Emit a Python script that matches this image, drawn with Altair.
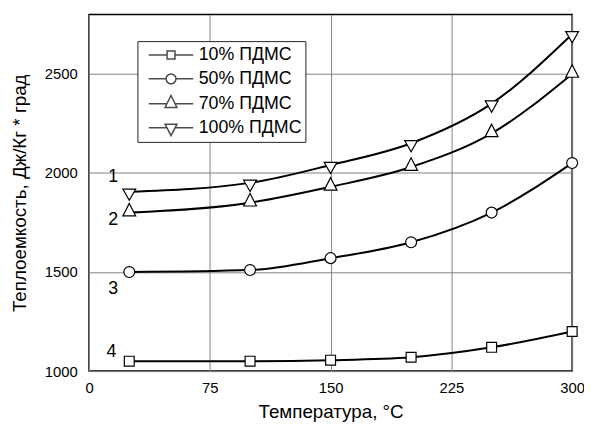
import altair as alt
import pandas as pd

# ---- data ----
temps = [25, 100, 150, 200, 250, 300]
series_names = ["10% ПДМС", "50% ПДМС", "70% ПДМС", "100% ПДМС"]
cp_10 = [1050, 1050, 1055, 1070, 1120, 1200]
cp_50 = [1500, 1510, 1570, 1650, 1800, 2050]
cp_70 = [1800, 1850, 1930, 2030, 2200, 2500]
cp_100 = [1905, 1950, 2040, 2150, 2350, 2700]

curve_labels = ["1", "2", "3", "4"]
curve_label_t = [15, 15, 15, 14]
curve_label_cp = [1980, 1760, 1415, 1095]

x_ticks = [0, 75, 150, 225, 300]
y_ticks = [1000, 1500, 2000, 2500]

# ---- marker shapes (custom symbol paths) ----
marker_paths = [
    "M-0.77,-0.77H0.77V0.77H-0.77Z",
    "M0.85,0A0.85,0.85,0,1,1,-0.85,0A0.85,0.85,0,1,1,0.85,0Z",
    "M0,-1.43L1,0.52L-1,0.52Z",
    "M-1,-0.42L1,-0.42L0,1.34Z",
]
legend_paths = [
    "M-2.25,0H-0.4M0.4,0H2.25M-0.4,-0.4H0.4V0.4H-0.4Z",
    "M-2.25,0H-0.5M0.5,0H2.25M0.5,0A0.5,0.5,0,1,1,-0.5,0A0.5,0.5,0,1,1,0.5,0Z",
    "M-2.25,0H-0.42M0.42,0H2.25M0,-0.84L0.6,0.37L-0.6,0.37Z",
    "M-2.25,0H-0.42M0.42,0H2.25M-0.6,-0.35L0.6,-0.35L0,0.8Z",
]

rows = []
for name, vals in zip(series_names, [cp_10, cp_50, cp_70, cp_100]):
    for t, v in zip(temps, vals):
        rows.append({"series": name, "t": t, "cp": v})
df = pd.DataFrame(rows)
labels_df = pd.DataFrame({"t": curve_label_t, "cp": curve_label_cp, "lab": curve_labels})

x_enc = alt.X(
    "t:Q",
    scale=alt.Scale(domain=[0, 300], nice=False, zero=False),
    axis=alt.Axis(
        values=x_ticks, format="d", title="Температура, °C", grid=True, gridColor="#808080",
        gridWidth=1, ticks=False, domain=False, labelFontSize=15, labelPadding=10,
        labelColor="black", titleColor="black", titleFontSize=19,
        titleFontWeight="normal", titleY=41, titleBaseline="middle", labelFlush=False,
    ),
)
y_enc = alt.Y(
    "cp:Q",
    scale=alt.Scale(domain=[1000, 2800], nice=False, zero=False),
    axis=alt.Axis(
        values=y_ticks, format="d", title="Теплоемкость, Дж/Кг * град", grid=True,
        gridColor="#808080", gridWidth=1, ticks=False, domain=False,
        labelFontSize=15, labelPadding=12, labelColor="black", titleColor="black",
        titleFontSize=19, titleFontWeight="normal", titleX=-70, titleY=180.5,
        titleAngle=270, titleAlign="center", titleBaseline="middle", labelFlush=False,
    ),
)

lines = alt.Chart(df).mark_line(
    interpolate="monotone", color="black", strokeWidth=2
).encode(x=x_enc, y=y_enc, detail="series:N")

points = alt.Chart(df).mark_point(
    filled=True, fill="white", stroke="black", strokeWidth=1.2, opacity=1, size=169
).encode(
    x="t:Q", y="cp:Q",
    shape=alt.Shape("series:N", scale=alt.Scale(domain=series_names, range=marker_paths), legend=None),
)

legend_layer = alt.Chart(df).transform_filter("false").mark_point(
    filled=False, stroke="black", strokeWidth=1.5
).encode(
    x="t:Q", y="cp:Q",
    shape=alt.Shape(
        "series:N",
        scale=alt.Scale(domain=series_names, range=legend_paths),
        legend=alt.Legend(
            title=None, orient="none", legendX=49, legendY=27,
            symbolSize=400, symbolOffset=20, labelOffset=17,
            padding=3, rowPadding=4.2, strokeColor="#222222", fillColor="white",
            labelFontSize=18, labelColor="black", symbolStrokeWidth=1.5,
            symbolFillColor="white", symbolStrokeColor="black",
            labelExpr="datum.label + '   '", labelLimit=300,
        ),
    ),
)

texts = alt.Chart(labels_df).mark_text(fontSize=18, color="black").encode(
    x="t:Q", y="cp:Q", text="lab:N"
)

chart = alt.layer(lines, points, legend_layer, texts).resolve_scale(
    shape="independent"
).properties(
    width=489, height=361,
    autosize="none",
    padding={"left": 82, "top": 4, "right": 12, "bottom": 50},
).configure(font="Liberation Sans").configure_view(
    stroke="black", strokeWidth=1.5
)

chart.save("out.html", embed_options={"renderer": "svg", "actions": False})
